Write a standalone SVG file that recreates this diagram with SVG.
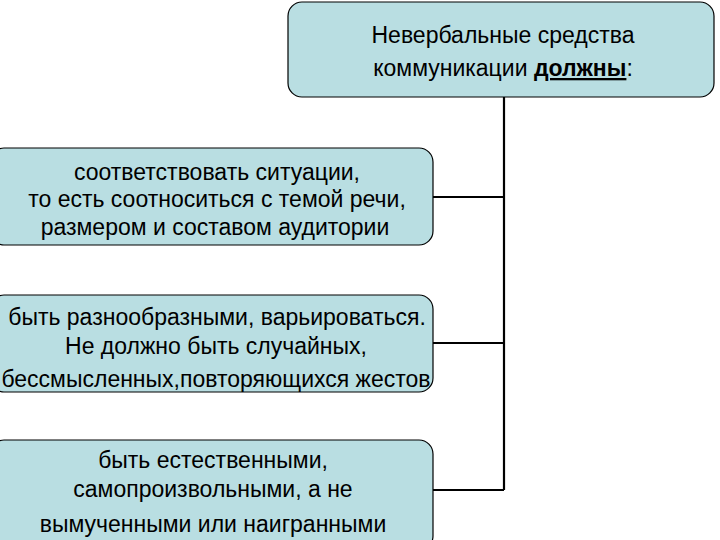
<svg xmlns="http://www.w3.org/2000/svg" width="720" height="540" viewBox="0 0 720 540">
<style>
.box{fill:#b9dee2;stroke:#000;stroke-width:1.2}
text{font-family:"Liberation Sans",Arial,sans-serif;font-size:23px;fill:#000;text-anchor:middle}
.c{stroke:#000;stroke-width:2.2;fill:none}
</style>
<rect width="720" height="540" fill="#fff"/>
<g id="connectors">
<path class="c" d="M504 97V490M433 197H504M433 343H504M433 490H504"/>
</g>
<g id="top">
<rect class="box" x="288" y="2" width="426" height="95" rx="14"/>
<text x="503" y="43" font-size="25">Невербальные средства</text>
<text x="503" y="76" font-size="25">коммуникации <tspan font-weight="bold" text-decoration="underline">должны</tspan>:</text>
</g>
<g id="n1">
<rect class="box" x="-10" y="148" width="443" height="97" rx="14"/>
<text x="217" y="180">соответствовать ситуации,</text>
<text x="217" y="207">то есть соотноситься с темой речи,</text>
<text x="215" y="235">размером и составом аудитории</text>
</g>
<g id="n2">
<rect class="box" x="-10" y="295" width="443" height="97" rx="14"/>
<text x="217" y="325">быть разнообразными, варьироваться.</text>
<text x="216" y="354" font-size="20">Не должно быть случайных,</text>
<text x="216" y="387" font-size="20">бессмысленных,повторяющихся жестов</text>
</g>
<g id="n3">
<rect class="box" x="-10" y="440" width="443" height="110" rx="14"/>
<text x="213" y="468">быть естественными,</text>
<text x="213" y="497">самопроизвольными, а не</text>
<text x="213" y="532">вымученными или наигранными</text>
</g>
</svg>
